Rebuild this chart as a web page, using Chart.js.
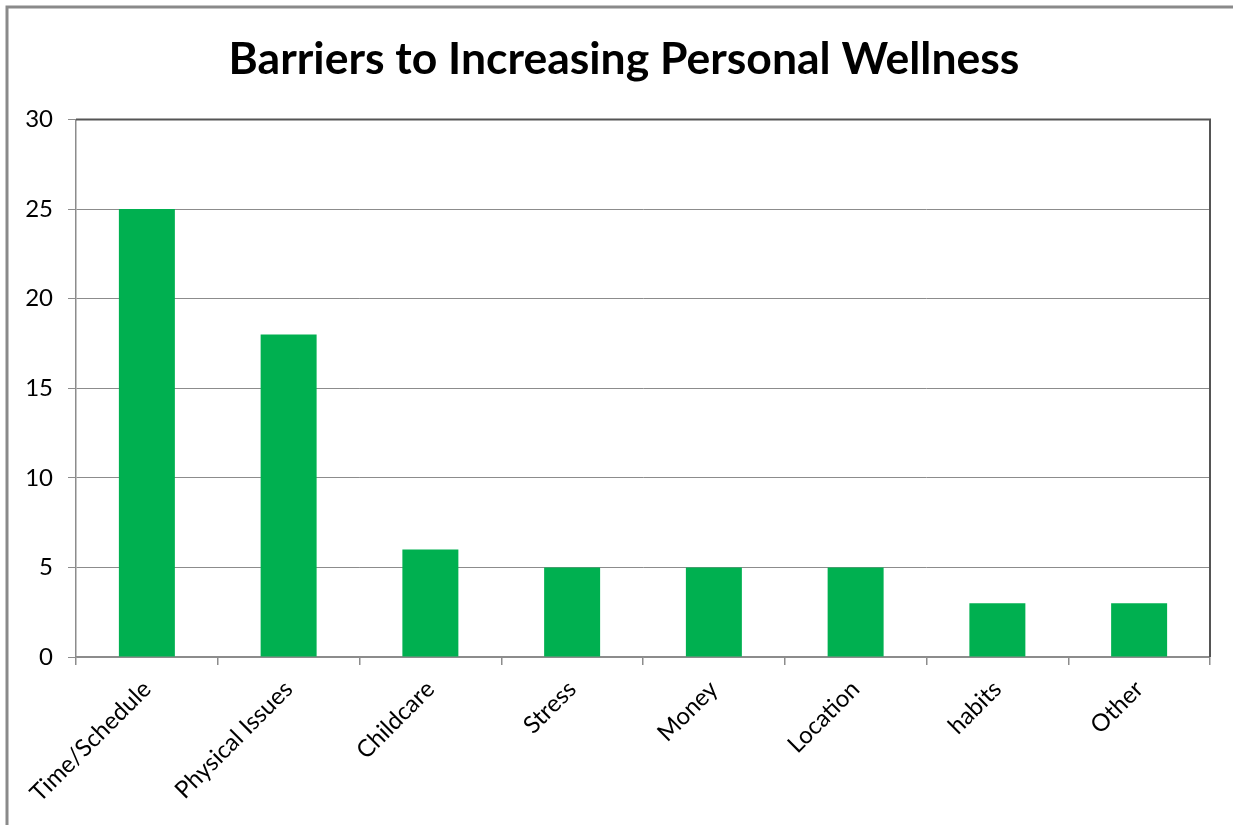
<!DOCTYPE html>
<html>
<head>
<meta charset="utf-8">
<script src="https://cdn.jsdelivr.net/npm/chart.js@4.4.1/dist/chart.umd.min.js"></script>
<style>
  html, body { margin: 0; padding: 0; background: #fff; }
  #wrap { width: 1233px; height: 825px; position: relative; }
</style>
</head>
<body>
<div id="wrap"><canvas id="c" width="1233" height="825"></canvas></div>
<script>
const categories = ["Time/Schedule", "Physical Issues", "Childcare", "Stress", "Money", "Location", "habits", "Other"];
const values = [25, 18, 6, 5, 5, 5, 3, 3];
const yTicks = [0, 5, 10, 15, 20, 25, 30];
const titleText = "Barriers to Increasing Personal Wellness";

const FONT = "Lato, 'Open Sans', 'Liberation Sans', sans-serif";

const framePlugin = {
  id: 'frame',
  beforeDraw(chart) {
    const ctx = chart.ctx;
    ctx.save();
    ctx.fillStyle = '#ffffff';
    ctx.fillRect(0, 0, chart.width, chart.height);
    ctx.strokeStyle = '#8a8a8a';
    ctx.lineWidth = 3;
    ctx.beginPath();
    ctx.moveTo(7, chart.height + 5);
    ctx.lineTo(7, 7);
    ctx.lineTo(chart.width + 5, 7);
    ctx.stroke();
    ctx.restore();
  },
  afterDatasetsDraw(chart) {
    const a = chart.chartArea;
    const ctx = chart.ctx;
    ctx.save();
    ctx.strokeStyle = '#555555';
    ctx.lineWidth = 2;
    ctx.beginPath();
    ctx.moveTo(a.left, a.top);
    ctx.lineTo(a.right, a.top);
    ctx.lineTo(a.right, a.bottom);
    ctx.stroke();
    ctx.restore();
  }
};

new Chart(document.getElementById('c'), {
  type: 'bar',
  data: {
    labels: categories,
    datasets: [{
      data: values,
      backgroundColor: '#00B050',
      borderWidth: 0,
      categoryPercentage: 1.0,
      barPercentage: 0.395
    }]
  },
  options: {
    responsive: false,
    animation: false,
    devicePixelRatio: 1,
    layout: { padding: { left: 15, right: 0, top: 0, bottom: 0 } },
    plugins: {
      legend: { display: false },
      tooltip: { enabled: false },
      title: {
        display: true,
        text: titleText,
        color: '#000000',
        font: { family: FONT, size: 44.5, weight: 'bold' },
        padding: { top: 33, bottom: 33 }
      }
    },
    scales: {
      x: {
        grid: {
          offset: true,
          drawOnChartArea: false,
          drawTicks: true,
          tickLength: 8,
          color: '#8c8c8c',
          lineWidth: 1.5
        },
        border: { display: true, color: '#8c8c8c', width: 1.5 },
        ticks: {
          maxRotation: 45,
          minRotation: 45,
          color: '#000000',
          font: { family: FONT, size: 24 },
          padding: 10
        },
        afterFit(scale) { scale.height = 168; }
      },
      y: {
        min: 0,
        max: 30,
        afterBuildTicks(scale) { scale.ticks = yTicks.map(v => ({ value: v })); },
        grid: {
          color: '#8c8c8c',
          lineWidth: 1,
          drawTicks: true,
          tickLength: 8
        },
        border: { display: true, color: '#8c8c8c', width: 1.5 },
        ticks: {
          color: '#000000',
          font: { family: FONT, size: 24 },
          padding: 15
        },
        afterFit(scale) { scale.width = 61; }
      },
      yRight: {
        position: 'right',
        display: true,
        grid: { display: false, drawTicks: false },
        border: { display: false },
        ticks: { display: false },
        afterFit(scale) { scale.width = 23; }
      }
    }
  },
  plugins: [framePlugin]
});
</script>
</body>
</html>
